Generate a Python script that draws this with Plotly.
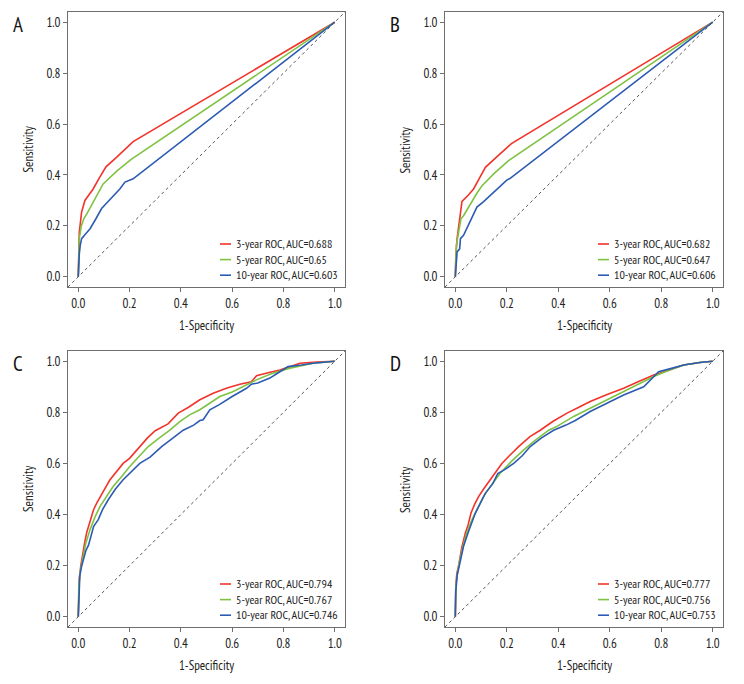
import plotly.graph_objects as go

# ---------------- data ----------------
series_names = ["3-year ROC", "5-year ROC", "10-year ROC"]
panel_labels = ["A", "B", "C", "D"]
auc_A = ["0.688", "0.65", "0.603"]
auc_B = ["0.682", "0.647", "0.606"]
auc_C = ["0.794", "0.767", "0.746"]
auc_D = ["0.777", "0.756", "0.753"]
tick_values = [0.0, 0.2, 0.4, 0.6, 0.8, 1.0]
tick_labels = ["0.0", "0.2", "0.4", "0.6", "0.8", "1.0"]

# Panel A
A_fpr_3y = [0, 0.001, 0.004, 0.008, 0.013, 0.026, 0.04, 0.058, 0.08, 0.108, 0.15, 0.214, 1.0]
A_tpr_3y = [0, 0.08, 0.176, 0.21, 0.254, 0.30, 0.32, 0.345, 0.385, 0.432, 0.47, 0.531, 1.0]
A_fpr_5y = [0, 0.001, 0.004, 0.012, 0.022, 0.035, 0.052, 0.075, 0.097, 0.15, 0.205, 1.0]
A_tpr_5y = [0, 0.07, 0.15, 0.2, 0.229, 0.25, 0.28, 0.325, 0.365, 0.415, 0.46, 1.0]
A_fpr_10y = [0, 0.001, 0.004, 0.008, 0.013, 0.03, 0.046, 0.07, 0.091, 0.12, 0.162, 0.182, 0.195, 0.214, 1.0]
A_tpr_10y = [0, 0.033, 0.09, 0.125, 0.15, 0.17, 0.189, 0.23, 0.268, 0.30, 0.345, 0.372, 0.378, 0.385, 1.0]

# Panel B
B_fpr_3y = [0, 0.002, 0.007, 0.017, 0.026, 0.05, 0.071, 0.095, 0.117, 0.16, 0.218, 1.0]
B_tpr_3y = [0, 0.08, 0.15, 0.24, 0.296, 0.32, 0.345, 0.39, 0.43, 0.47, 0.523, 1.0]
B_fpr_5y = [0, 0.002, 0.004, 0.013, 0.022, 0.032, 0.06, 0.085, 0.104, 0.15, 0.207, 1.0]
B_tpr_5y = [0, 0.07, 0.124, 0.176, 0.228, 0.24, 0.29, 0.33, 0.358, 0.405, 0.456, 1.0]
B_fpr_10y = [0, 0.002, 0.007, 0.017, 0.02, 0.032, 0.06, 0.084, 0.11, 0.136, 0.17, 0.2, 0.212, 1.0]
B_tpr_10y = [0, 0.04, 0.098, 0.11, 0.15, 0.163, 0.22, 0.274, 0.295, 0.319, 0.35, 0.38, 0.386, 1.0]

# Panel C
C_fpr_3y = [0, 0.001, 0.004, 0.01, 0.017, 0.025, 0.033, 0.045, 0.06, 0.072, 0.09, 0.1, 0.123, 0.15,
            0.175, 0.2, 0.24, 0.27, 0.3, 0.35, 0.39, 0.43, 0.474, 0.526, 0.58, 0.63, 0.675, 0.695,
            0.74, 0.786, 0.83, 0.864, 0.93, 1.0]
C_tpr_3y = [0, 0.10, 0.15, 0.2, 0.25, 0.29, 0.33, 0.37, 0.42, 0.445, 0.48, 0.495, 0.535, 0.57,
            0.60, 0.62, 0.666, 0.70, 0.728, 0.755, 0.797, 0.82, 0.849, 0.875, 0.895, 0.91, 0.92, 0.943,
            0.955, 0.966, 0.98, 0.992, 0.997, 1.0]
C_fpr_5y = [0, 0.002, 0.008, 0.017, 0.03, 0.046, 0.065, 0.085, 0.11, 0.136, 0.17, 0.201, 0.235, 0.273,
            0.31, 0.357, 0.396, 0.434, 0.474, 0.52, 0.552, 0.6, 0.65, 0.695, 0.75, 0.825, 0.916, 1.0]
C_tpr_5y = [0, 0.12, 0.18, 0.224, 0.29, 0.341, 0.39, 0.432, 0.47, 0.51, 0.55, 0.588, 0.625, 0.666,
            0.695, 0.73, 0.764, 0.79, 0.81, 0.84, 0.862, 0.88, 0.905, 0.927, 0.95, 0.973, 0.992, 1.0]
C_fpr_10y = [0, 0.002, 0.006, 0.013, 0.02, 0.03, 0.04, 0.052, 0.06, 0.078, 0.095, 0.117, 0.145, 0.175,
             0.21, 0.24, 0.28, 0.325, 0.37, 0.409, 0.45, 0.474, 0.487, 0.513, 0.55, 0.6, 0.656, 0.675,
             0.7, 0.747, 0.78, 0.818, 0.87, 0.916, 1.0]
C_tpr_10y = [0, 0.1, 0.16, 0.198, 0.22, 0.26, 0.28, 0.33, 0.354, 0.38, 0.42, 0.458, 0.5, 0.536,
             0.57, 0.60, 0.625, 0.666, 0.70, 0.73, 0.75, 0.768, 0.771, 0.81, 0.83, 0.862, 0.894, 0.91,
             0.915, 0.934, 0.955, 0.979, 0.985, 0.992, 1.0]

# Panel D
D_fpr_3y = [0, 0.002, 0.006, 0.013, 0.025, 0.039, 0.05, 0.061, 0.075, 0.091, 0.11, 0.136, 0.16, 0.181,
            0.21, 0.246, 0.29, 0.33, 0.38, 0.434, 0.48, 0.524, 0.59, 0.654, 0.71, 0.771, 0.83, 0.887,
            0.95, 1.0]
D_tpr_3y = [0, 0.12, 0.17, 0.2, 0.27, 0.328, 0.36, 0.406, 0.44, 0.471, 0.5, 0.536, 0.57, 0.60,
            0.63, 0.666, 0.705, 0.73, 0.765, 0.797, 0.82, 0.842, 0.87, 0.894, 0.92, 0.946, 0.965, 0.985,
            0.995, 1.0]
D_fpr_5y = [0, 0.002, 0.008, 0.015, 0.03, 0.045, 0.065, 0.085, 0.11, 0.14, 0.175, 0.22, 0.266, 0.31,
            0.363, 0.395, 0.46, 0.524, 0.59, 0.654, 0.71, 0.771, 0.83, 0.887, 0.95, 1.0]
D_tpr_5y = [0, 0.12, 0.17, 0.21, 0.276, 0.33, 0.38, 0.42, 0.471, 0.515, 0.5625, 0.61, 0.653, 0.69,
            0.73, 0.745, 0.784, 0.816, 0.85, 0.881, 0.91, 0.94, 0.965, 0.985, 0.995, 1.0]
D_fpr_10y = [0, 0.002, 0.007, 0.015, 0.032, 0.05, 0.06, 0.078, 0.095, 0.117, 0.145, 0.165, 0.19, 0.227,
             0.26, 0.291, 0.335, 0.382, 0.43, 0.466, 0.524, 0.59, 0.654, 0.732, 0.76, 0.79, 0.84, 0.887,
             0.95, 1.0]
D_tpr_10y = [0, 0.1, 0.16, 0.2, 0.276, 0.33, 0.36, 0.406, 0.44, 0.484, 0.52, 0.56, 0.575, 0.60,
             0.63, 0.666, 0.70, 0.73, 0.75, 0.768, 0.803, 0.835, 0.868, 0.90, 0.93, 0.959, 0.972, 0.985,
             0.995, 1.0]

# ---------------- styling ----------------
OFF = 8                      # default page margin of the HTML body
W, H = 744 - 2 * OFF, 684 - 2 * OFF
FONT = "PT Sans Narrow, Roboto Condensed, Liberation Sans, sans-serif"
FS = 13
LEG_FS = 12
LEG_LH = 1.3 * LEG_FS        # annotation line height
line_colors = ["#f2332b", "#7fc241", "#2c5bb3"]
frame_color = "#6f6f6f"
text_color = "#222222"


def px_x(px):
    return (px - OFF) / W


def px_y(py):
    return 1 - (py - OFF) / H


panels = [
    (A_fpr_3y, A_tpr_3y, A_fpr_5y, A_tpr_5y, A_fpr_10y, A_tpr_10y, auc_A),
    (B_fpr_3y, B_tpr_3y, B_fpr_5y, B_tpr_5y, B_fpr_10y, B_tpr_10y, auc_B),
    (C_fpr_3y, C_tpr_3y, C_fpr_5y, C_tpr_5y, C_fpr_10y, C_tpr_10y, auc_C),
    (D_fpr_3y, D_tpr_3y, D_fpr_5y, D_tpr_5y, D_fpr_10y, D_tpr_10y, auc_D),
]

# window-pixel boxes of each plot frame: left, right, top, bottom
boxes = [(68, 345, 12, 287), (445, 723, 12, 287), (68, 345, 351, 627), (445, 723, 351, 627)]

fig = go.Figure()
for i, (panel, box) in enumerate(zip(panels, boxes)):
    n = i + 1
    xa = "x" if n == 1 else f"x{n}"
    ya = "y" if n == 1 else f"y{n}"
    xs = [panel[0], panel[2], panel[4]]
    ys = [panel[1], panel[3], panel[5]]
    aucs = panel[6]
    for k in range(3):
        fig.add_trace(go.Scatter(
            x=xs[k], y=ys[k], mode="lines",
            name=f"{series_names[k]}, AUC={aucs[k]}",
            line=dict(color=line_colors[k], width=1.6),
            xaxis=xa, yaxis=ya, showlegend=False,
        ))
    l, r, t, b = box
    axis_common = dict(
        range=[-0.04, 1.04], tickvals=tick_values, ticktext=tick_labels,
        ticks="outside", ticklen=4, tickwidth=1, tickcolor=frame_color,
        showline=True, linecolor=frame_color, linewidth=1, mirror=True,
        showgrid=False, zeroline=False,
        tickfont=dict(family=FONT, size=FS, color=text_color),
    )
    fig.update_layout({
        f"xaxis{'' if n == 1 else n}": dict(domain=[px_x(l), px_x(r)], anchor=ya, **axis_common),
        f"yaxis{'' if n == 1 else n}": dict(domain=[px_y(b), px_y(t)], anchor=xa, **axis_common),
    })
    # diagonal reference line (abline 0,1)
    fig.add_shape(type="line", xref=f"{xa} domain", yref=f"{ya} domain", x0=0, y0=0, x1=1, y1=1,
                  line=dict(color="#555555", width=1, dash="dot"))
    # legend: one text block + key lines
    text_bottom = b - 3
    fig.add_annotation(
        xref="paper", yref="paper", x=px_x(r - 111), y=px_y(text_bottom),
        xanchor="left", yanchor="bottom", align="left", showarrow=False,
        text="<br>".join(f"{series_names[k]}, AUC={aucs[k]}" for k in range(3)),
        font=dict(family=FONT, size=LEG_FS, color=text_color))
    for k in range(3):
        row_y = px_y(text_bottom - 1 - LEG_LH / 2 - LEG_LH * (2 - k))
        fig.add_shape(type="line", xref="paper", yref="paper",
                      x0=px_x(r - 125), x1=px_x(r - 114), y0=row_y, y1=row_y,
                      line=dict(color=line_colors[k], width=1.6))
    # axis titles
    fig.add_annotation(xref="paper", yref="paper", x=px_x(l - 40), y=px_y((t + b) / 2),
                       xanchor="center", yanchor="middle",
                       text="Sensitivity", textangle=-90, showarrow=False,
                       font=dict(family=FONT, size=FS, color=text_color))
    fig.add_annotation(xref="paper", yref="paper", x=px_x((l + r) / 2), y=px_y(b + 38),
                       xanchor="center", yanchor="middle",
                       text="1-Specificity", showarrow=False,
                       font=dict(family=FONT, size=FS, color=text_color))
    # panel letter
    fig.add_annotation(xref="paper", yref="paper", x=px_x(l - 50), y=px_y(t - 3),
                       xanchor="center", yanchor="top",
                       text=panel_labels[i], showarrow=False,
                       font=dict(family=FONT, size=21, color="#111111"))

fig.update_layout(
    width=W, height=H, margin=dict(l=0, r=0, t=0, b=0),
    paper_bgcolor="white", plot_bgcolor="white", showlegend=False,
)
fig.write_html("out.html")
